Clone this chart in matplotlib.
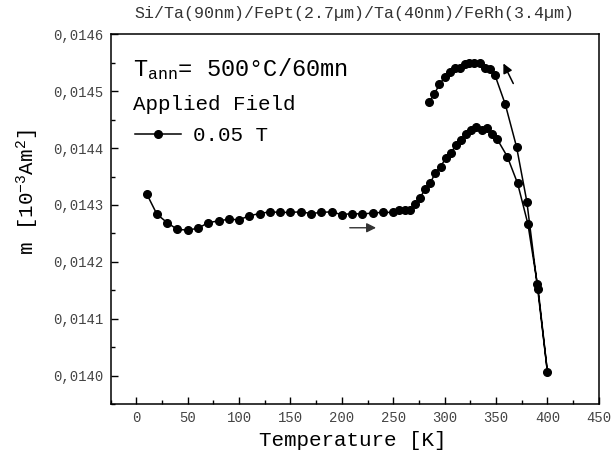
import matplotlib
matplotlib.use('Agg')
import matplotlib.pyplot as plt
from matplotlib.ticker import MultipleLocator, FuncFormatter

plt.rcParams['font.family'] = ['Liberation Mono', 'DejaVu Sans']
plt.rcParams['mathtext.fontset'] = 'custom'
plt.rcParams['mathtext.rm'] = 'Liberation Mono'
plt.rcParams['mathtext.it'] = 'Liberation Mono'
plt.rcParams['mathtext.bf'] = 'Liberation Mono:bold'

# heating branch (lower curve), T in K, m in 10^-3 Am^2
T_heat = [10, 20, 30, 40, 50, 60, 70, 80, 90, 100, 110, 120, 130, 140, 150, 160,
          170, 180, 190, 200, 210, 220, 230, 240, 250, 256, 261, 266, 271, 276,
          281, 286, 291, 296, 301, 306, 311, 316, 321, 326, 331, 336, 341, 346,
          351, 361, 371, 381, 391, 400]
m_heat = [0.014320, 0.014284, 0.014269, 0.014257, 0.014256, 0.014259, 0.014269,
          0.014272, 0.014275, 0.014274, 0.014281, 0.014285, 0.014288, 0.014287,
          0.014287, 0.014288, 0.014285, 0.014287, 0.014288, 0.014283, 0.014285,
          0.014284, 0.014286, 0.014287, 0.014287, 0.014291, 0.014291, 0.014291,
          0.014301, 0.014312, 0.014328, 0.014338, 0.014357, 0.014367, 0.014382,
          0.014391, 0.014405, 0.014415, 0.014425, 0.014432, 0.014437, 0.014432,
          0.014436, 0.014425, 0.014416, 0.014385, 0.014338, 0.014267, 0.014152,
          0.014007]

# cooling branch (upper curve)
T_cool = [400, 390, 380, 370, 359, 349, 344, 339, 334, 329, 324, 320, 315, 310,
          305, 300, 295, 290, 285]
m_cool = [0.014007, 0.014161, 0.014306, 0.014402, 0.014477, 0.014528, 0.014539,
          0.014540, 0.014549, 0.014550, 0.014550, 0.014547, 0.014541, 0.014540,
          0.014533, 0.014524, 0.014512, 0.014495, 0.014481]

fig = plt.figure(figsize=(6.11, 4.62), dpi=100)
ax = fig.add_axes([0.181, 0.125, 0.799, 0.801])

ax.plot(T_heat + T_cool[1:], m_heat + m_cool[1:], color='k', lw=1.1,
        marker='o', ms=5.5, mfc='k', mec='k', label='0.05 T')

ax.set_xlim(-25, 450)
ax.set_ylim(0.01395, 0.0146)
ax.xaxis.set_major_locator(MultipleLocator(50))
ax.xaxis.set_minor_locator(MultipleLocator(25))
ax.yaxis.set_major_locator(MultipleLocator(0.0001))
ax.yaxis.set_minor_locator(MultipleLocator(0.00005))
ax.yaxis.set_major_formatter(FuncFormatter(lambda v, p: f'{v:.4f}'.replace('.', ',')))
ax.tick_params(which='both', direction='in', width=1, labelsize=10, labelcolor='#444444')
ax.tick_params(which='major', length=5)
ax.tick_params(which='minor', length=3)
ax.tick_params(axis='x', pad=5)
ax.tick_params(axis='y', pad=5)
for s in ax.spines.values():
    s.set_linewidth(1.1)

ax.set_xlabel('Temperature [K]', fontsize=15)
ax.set_ylabel(r'm [10$^{-3}$Am$^{2}$]', fontsize=15)
ax.xaxis.set_label_coords(0.496, -0.073)
ax.yaxis.set_label_coords(-0.142, 0.573)
ax.set_title('Si/Ta(90nm)/FePt(2.7µm)/Ta(40nm)/FeRh(3.4µm)', fontsize=12, pad=12,
             color='#333333')

ax.text(0.045, 0.905, r'T$_{\rm ann}$= 500°C/60mn', transform=ax.transAxes,
        fontsize=17, va='center')
ax.text(0.045, 0.81, 'Applied Field', transform=ax.transAxes, fontsize=15, va='center')
ax.legend(loc='upper left', bbox_to_anchor=(0.02, 0.79), frameon=False,
          fontsize=15, handlelength=2.2, handletextpad=0.6, borderpad=0.2)

ax.annotate('', xy=(236, 0.01426), xytext=(205, 0.01426),
            arrowprops=dict(arrowstyle='-|>', color='#333333', lw=1.0, mutation_scale=14))
ax.annotate('', xy=(356, 0.014553), xytext=(368, 0.014509),
            arrowprops=dict(arrowstyle='-|>', color='k', lw=1.1, mutation_scale=14))

fig.savefig('out.png', dpi=100)
